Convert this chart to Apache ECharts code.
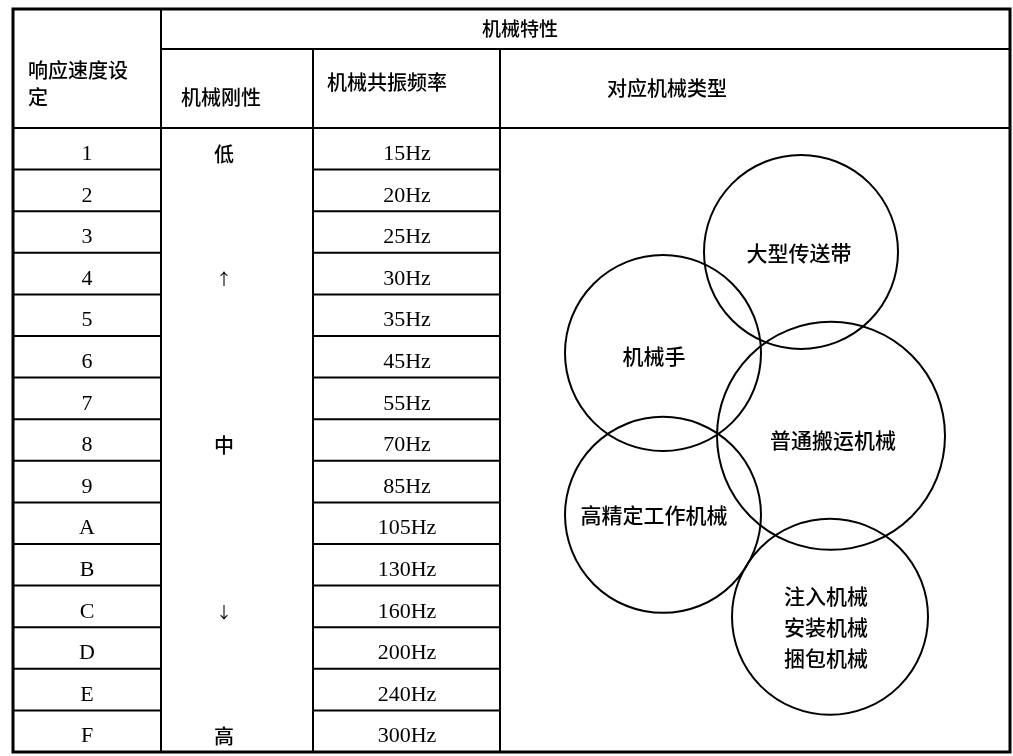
<!DOCTYPE html>
<html>
<head>
<meta charset="utf-8">
<script src="https://cdn.jsdelivr.net/npm/echarts@6/dist/echarts.min.js"></script>
<style>
html,body{margin:0;padding:0;background:#fff;}
#chart{width:1013px;height:756px;}
</style>
</head>
<body>
<div id="chart"></div>
<script>
// ---- data ----
const speedSettings = ['1','2','3','4','5','6','7','8','9','A','B','C','D','E','F'];
const stiffnessLabels = ['低','','','↑','','','','中','','','','↓','','','高'];
const resonanceFreq = ['15Hz','20Hz','25Hz','30Hz','35Hz','45Hz','55Hz','70Hz','85Hz','105Hz','130Hz','160Hz','200Hz','240Hz','300Hz'];
const groupHeader = '机械特性';
const columnHeaders = ['响应速度设\n定','机械刚性','机械共振频率','对应机械类型'];
const machineTypes = ['大型传送带','机械手','普通搬运机械','高精定工作机械','注入机械\n安装机械\n捆包机械'];

// ---- layout (x in px-units of the grid, y in row units) ----
const COLS = [0,148,300,487,997];
const HEAD_TOP = -2.86, HEAD_MID = -1.9, ROWS = speedSettings.length;
const headerPos = [[15,-1.07,'left'],[208,-0.745,'center'],[374,-1.106,'center'],[654,-0.94,'center']];
const groupHeaderPos = [507,-2.38];
const bubbleLayout = [
  {c:[788,2.98], r:97, t:[786,3.0]},
  {c:[650,5.41], r:98, t:[641,5.48]},
  {c:[818,7.40], r:114, t:[820,7.5]},
  {c:[650,9.30], r:98, t:[641,9.30]},
  {c:[817,11.75], r:98, t:[813,12.0]}
];
const CJK = '"Noto Sans CJK SC","Noto Sans",sans-serif';
const SERIF = '"Liberation Serif","DejaVu Serif",serif';
const TEXT_DY = 0.13;

function line(api, a, b, w){
  const p1 = api.coord(a), p2 = api.coord(b);
  return {type:'line', shape:{x1:p1[0],y1:p1[1],x2:p2[0],y2:p2[1]}, style:{stroke:'#000', lineWidth:w}};
}
function txt(api, pos, s, font, size, align, lh, weight){
  const p = api.coord(pos);
  return {type:'text', x:p[0], y:p[1], style:{text:s, fill:'#000', fontFamily:font, fontSize:size, fontWeight:weight||'normal', align:align||'center', verticalAlign:'middle', lineHeight:lh||size+4}};
}

const chart = echarts.init(document.getElementById('chart'), null, {renderer:'canvas'});
chart.setOption({
  backgroundColor:'#fff',
  animation:false,
  grid:{left:13, right:3, top:9, bottom:4},
  xAxis:{type:'value', min:0, max:997, show:false},
  yAxis:{type:'value', min:HEAD_TOP, max:ROWS, inverse:true, show:false},
  series:[
    { // frame & header
      type:'custom', silent:true, data:[[0]],
      renderItem:function(params, api){
        const ch = [];
        ch.push(line(api,[COLS[1],HEAD_TOP],[COLS[1],ROWS],2));
        ch.push(line(api,[COLS[1],HEAD_MID],[COLS[4],HEAD_MID],2));
        ch.push(line(api,[COLS[2],HEAD_MID],[COLS[2],ROWS],2));
        ch.push(line(api,[COLS[3],HEAD_MID],[COLS[3],ROWS],2));
        ch.push(line(api,[COLS[0],0],[COLS[4],0],2));
        const tl = api.coord([COLS[0],HEAD_TOP]), br = api.coord([COLS[4],ROWS]);
        ch.push({type:'rect', shape:{x:tl[0],y:tl[1],width:br[0]-tl[0],height:br[1]-tl[1]}, style:{fill:null, stroke:'#000', lineWidth:3}});
        ch.push(txt(api, groupHeaderPos, groupHeader, CJK, 19, 'center', 23, 500));
        columnHeaders.forEach(function(h,i){
          ch.push(txt(api,[headerPos[i][0],headerPos[i][1]], h, CJK, 20, headerPos[i][2], 27, 500));
        });
        return {type:'group', children:ch};
      }
    },
    { // rows
      type:'custom', silent:true,
      data: speedSettings.map(function(s,i){ return [i]; }),
      renderItem:function(params, api){
        const i = api.value(0);
        const ch = [];
        if (i < ROWS-1){
          ch.push(line(api,[COLS[0],i+1],[COLS[1],i+1],2));
          ch.push(line(api,[COLS[2],i+1],[COLS[3],i+1],2));
        }
        const yc = i + 0.5 + TEXT_DY;
        ch.push(txt(api,[74,yc], speedSettings[i], SERIF, 22));
        const s = stiffnessLabels[i];
        if (s) {
          const isArrow = (s === '↑' || s === '↓');
          ch.push(txt(api,[211,yc], s, CJK, isArrow ? 16 : 20, 'center', 24, isArrow ? 'normal' : 500));
        }
        ch.push(txt(api,[394,yc], resonanceFreq[i], SERIF, 22));
        return {type:'group', children:ch};
      }
    },
    { // machine type bubbles
      type:'custom', silent:true,
      data: machineTypes.map(function(m,i){ return [i]; }),
      renderItem:function(params, api){
        const i = api.value(0);
        const b = bubbleLayout[i];
        const c = api.coord(b.c);
        const r = api.size([b.r,0])[0];
        return {type:'group', children:[
          {type:'circle', shape:{cx:c[0], cy:c[1], r:r}, style:{fill:null, stroke:'#000', lineWidth:2}},
          txt(api, b.t, machineTypes[i], CJK, 21, 'center', 31, 500)
        ]};
      }
    }
  ]
});
</script>
</body>
</html>
